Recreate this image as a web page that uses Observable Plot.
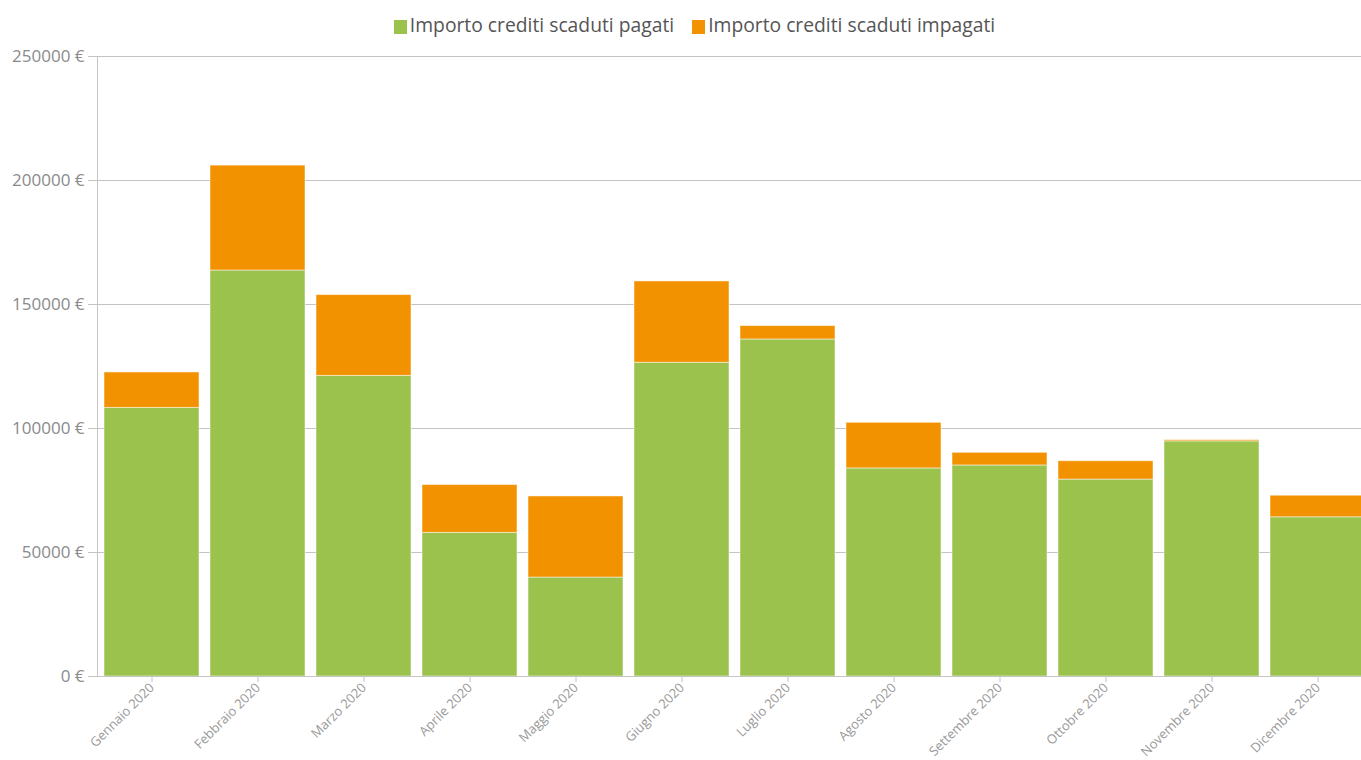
<!DOCTYPE html>
<html>
<head>
<meta charset="utf-8">
<script src="https://cdn.jsdelivr.net/npm/d3@7"></script>
<script src="https://cdn.jsdelivr.net/npm/@observablehq/plot@0.6"></script>
<style>
  html, body { margin: 0; padding: 0; background: #fff; overflow: hidden; width: 1361px; height: 760px; }
  body { font-family: "Open Sans", sans-serif; }
  #legend { height: 40px; display: flex; justify-content: center; align-items: center; padding-left: 28px; box-sizing: border-box; width: 1361px; font-size: 19.3px; color: #555; padding-top: 8px; }
  .item { display: flex; align-items: center; margin: 0 9px; }
  .sw { width: 13px; height: 14px; margin-right: 3px; margin-top: 6px; }
  #chart svg { max-width: none !important; }
</style>
</head>
<body>
<div id="legend"></div>
<div id="chart"></div>
<script>
const months = ["Gennaio 2020","Febbraio 2020","Marzo 2020","Aprile 2020","Maggio 2020","Giugno 2020","Luglio 2020","Agosto 2020","Settembre 2020","Ottobre 2020","Novembre 2020","Dicembre 2020"];
const pagati   = [108300, 163700, 121200, 57900, 39900, 126500, 135900, 83900, 85100, 79400, 94800, 64200];
const impagati = [14300, 42300, 32600, 19300, 32700, 32800, 5400, 18400, 5100, 7400, 500, 8700];
const seriesNames = ["Importo crediti scaduti pagati", "Importo crediti scaduti impagati"];
const seriesColors = ["#9bc24c", "#f29200"];
const yTicks = [0, 50000, 100000, 150000, 200000, 250000];

const data = [];
months.forEach((m, i) => {
  data.push({month: m, serie: seriesNames[0], value: pagati[i]});
  data.push({month: m, serie: seriesNames[1], value: impagati[i]});
});

const legend = document.getElementById("legend");
seriesNames.forEach((s, i) => {
  const it = document.createElement("div");
  it.className = "item";
  const sw = document.createElement("div");
  sw.className = "sw";
  sw.style.background = seriesColors[i];
  const t = document.createElement("span");
  t.textContent = s;
  it.appendChild(sw); it.appendChild(t);
  legend.appendChild(it);
});

const chart = Plot.plot({
  width: 1373,
  height: 720,
  marginLeft: 97,
  marginRight: 0,
  marginTop: 16,
  marginBottom: 84,
  style: {fontFamily: "Open Sans, sans-serif", background: "white", overflow: "visible", maxWidth: "none"},
  x: {domain: months, paddingInner: 0.1, paddingOuter: 0.04, label: null},
  y: {domain: [0, 250000], label: null},
  color: {domain: seriesNames, range: seriesColors},
  marks: [
    Plot.gridY(yTicks, {stroke: "#c4c4c4", strokeOpacity: 1}),
    Plot.barY(data, {x: "month", y: "value", fill: "serie", stroke: "#ffffff", strokeOpacity: 0.5, strokeWidth: 1, inset: 0}),
    Plot.frame({anchor: "left", stroke: "#c4c4c4"}),
    Plot.ruleY([0], {stroke: "#c4c4c4"}),
    Plot.axisY(yTicks, {tickSize: 9, tickPadding: 4, fontSize: 17, fill: "#8a8a8a", stroke: "#c4c4c4", tickFormat: d => `${d} €`}),
    Plot.axisX({tickSize: 6, tickPadding: 3, tickRotate: -45, fontSize: 13, fill: "#999", stroke: "#c4c4c4"})
  ]
});
document.getElementById("chart").appendChild(chart);
</script>
</body>
</html>
